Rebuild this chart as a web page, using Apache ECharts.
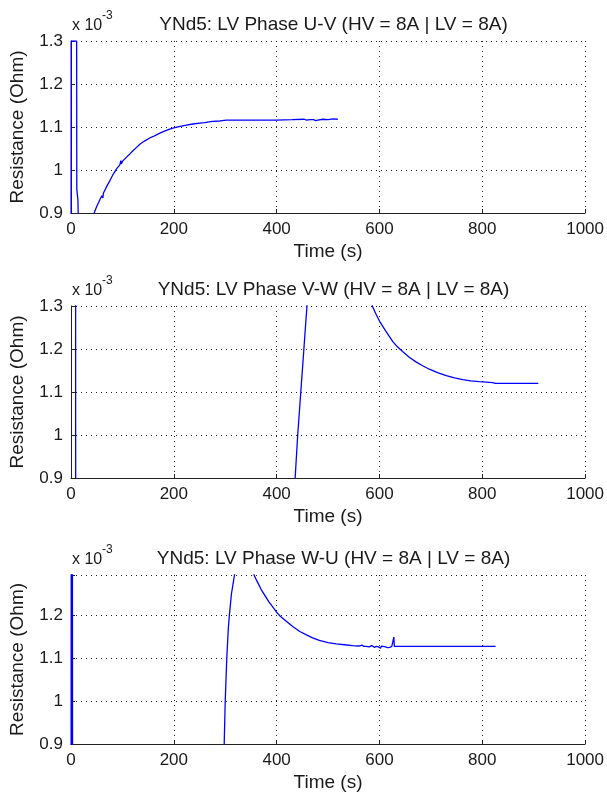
<!DOCTYPE html>
<html>
<head>
<meta charset="utf-8">
<script src="https://cdn.jsdelivr.net/npm/echarts@6/dist/echarts.min.js"></script>
<style>html,body{margin:0;padding:0;background:#fff}#c{width:607px;height:798px}</style>
</head>
<body>
<div id="c"></div>
<script>
// Values in units of 1e-3 Ohm (axis shows "x 10^-3")
const titles = [
  'YNd5: LV Phase U-V (HV = 8A | LV = 8A)',
  'YNd5: LV Phase V-W (HV = 8A | LV = 8A)',
  'YNd5: LV Phase W-U (HV = 8A | LV = 8A)'
];
const xTicks = [0, 200, 400, 600, 800, 1000];
const yTicks = [0.9, 1.0, 1.1, 1.2, 1.3];

const uvTime = [0,0.3,11,11.3,13.5,14.5,15,43,45,50,55,60,62,63,70,76,82,89,95,97,98,100,108,115,120,127,134,140,147,154,160,168,175,183,192,200,210,222,237,250,260,262,275,290,302,350,399,430,454,456,458,465,472,476,480,490,500,510,519];
const uvRes  = [0.5,1.3,1.3,0.955,0.93,0.85,0.5,0.5,0.9,0.915,0.928,0.94,0.935,0.946,0.963,0.976,0.99,1.003,1.012,1.022,1.014,1.02,1.03,1.038,1.044,1.052,1.06,1.065,1.07,1.075,1.078,1.083,1.087,1.091,1.095,1.098,1.101,1.104,1.107,1.109,1.110,1.112,1.113,1.114,1.116,1.116,1.116,1.117,1.118,1.115,1.116,1.117,1.117,1.115,1.116,1.118,1.117,1.119,1.118];

const vwTime = [0,8.8,9.2,435,436,441,444,447,453,459,460,585,586,593,600,612,626,635,645,658,671,684,697,713,730,746,762,778,794,808,820,822,826,850,880,909];
const vwRes  = [2,2,0.5,0.5,0.9,1.0,1.05,1.1,1.2,1.3,2,2,1.3,1.282,1.265,1.242,1.217,1.205,1.194,1.181,1.17,1.161,1.153,1.145,1.138,1.133,1.129,1.126,1.124,1.123,1.122,1.121,1.12,1.12,1.12,1.12];

const wuTime = [0,0.8,1.6,2.4,3.2,297,298,300,303,306,308,312,316,318,319,355,356,362,370,385,400,406,420,432,445,458,470,483,500,516,532,548,560,566,570,574,580,585,590,594,598,602,604,606,612,616,620,624,627,628,629,700,760,826];
const wuRes  = [0.5,2,0.5,2,0.5,0.5,0.9,1.0,1.1,1.17,1.2,1.25,1.28,1.295,2,2,1.295,1.28,1.261,1.232,1.208,1.2,1.186,1.174,1.163,1.155,1.148,1.142,1.137,1.134,1.132,1.13,1.129,1.131,1.128,1.128,1.127,1.130,1.126,1.128,1.127,1.124,1.129,1.126,1.127,1.125,1.126,1.128,1.128,1.15,1.128,1.128,1.128,1.128];

const yMax = [1.3, 1.3, 1.295];
const times = [uvTime, vwTime, wuTime];
const vals = [uvRes, vwRes, wuRes];

const FONT = '"Liberation Sans", Arial, Helvetica, sans-serif';
const TXT = '#1a1a1a';
const grids = [
  {left: 71, top: 41, width: 515, height: 172},
  {left: 71, top: 306, width: 515, height: 172},
  {left: 71, top: 575, width: 515, height: 169}
];

const chart = echarts.init(document.getElementById('c'), null, {renderer: 'canvas'});
const option = {
  animation: false,
  backgroundColor: '#fff',
  textStyle: {fontFamily: FONT},
  title: [], grid: [], xAxis: [], yAxis: [], series: [], graphic: []
};
for (let i = 0; i < 3; i++) {
  const g = grids[i];
  option.grid.push(Object.assign({containLabel: false}, g));
  option.title.push({
    text: titles[i], left: g.left + g.width / 2, top: g.top - 31, textAlign: 'center',
    textStyle: {fontFamily: FONT, fontSize: 19, fontWeight: 'normal', color: TXT}
  });
  option.xAxis.push({
    type: 'value', gridIndex: i, min: 0, max: 1000, interval: 200,
    name: 'Time (s)', nameLocation: 'middle', nameGap: 29,
    nameTextStyle: {fontFamily: FONT, fontSize: 19, color: TXT},
    axisLine: {show: true, onZero: false, lineStyle: {color: '#222', width: 1}},
    axisTick: {show: true, inside: true, length: 4, lineStyle: {color: '#222'}},
    axisLabel: {margin: 8, fontFamily: FONT, fontSize: 17, color: TXT,
      formatter: v => xTicks.indexOf(v) >= 0 ? String(v) : ''},
    splitLine: {show: true, lineStyle: {color: '#222', type: [1, 4], width: 1}}
  });
  option.yAxis.push({
    type: 'value', gridIndex: i, min: 0.9, max: yMax[i], interval: 0.1,
    name: 'Resistance (Ohm)', nameLocation: 'middle', nameGap: 44,
    nameTextStyle: {fontFamily: FONT, fontSize: 19, color: TXT},
    axisLine: {show: true, onZero: false, lineStyle: {color: '#222', width: 1}},
    axisTick: {show: true, inside: true, length: 4, lineStyle: {color: '#222'}},
    axisLabel: {margin: 8, fontFamily: FONT, fontSize: 17, color: TXT,
      formatter: v => {
        const t = yTicks.find(y => Math.abs(y - v) < 1e-6);
        if (t === undefined) return '';
        return Math.abs(t - 1) < 1e-6 ? '1' : t.toFixed(1);
      }},
    splitLine: {show: true, lineStyle: {color: '#222', type: [1, 4], width: 1}}
  });
  option.series.push({
    type: 'line', xAxisIndex: i, yAxisIndex: i, clip: true, showSymbol: false,
    symbol: 'none', lineStyle: {color: '#0000ff', width: 1.3},
    data: times[i].map((t, k) => [t, vals[i][k]])
  });
  option.graphic.push({
    type: 'text', x: g.left + 1, y: g.top - 15,
    style: {text: 'x 10', font: '16px ' + FONT, fill: TXT, verticalAlign: 'middle', align: 'left'}
  });
  option.graphic.push({
    type: 'text', x: g.left + 31, y: g.top - 25,
    style: {text: '-3', font: '12px ' + FONT, fill: TXT, verticalAlign: 'middle', align: 'left'}
  });
}
chart.setOption(option);
</script>
</body>
</html>
